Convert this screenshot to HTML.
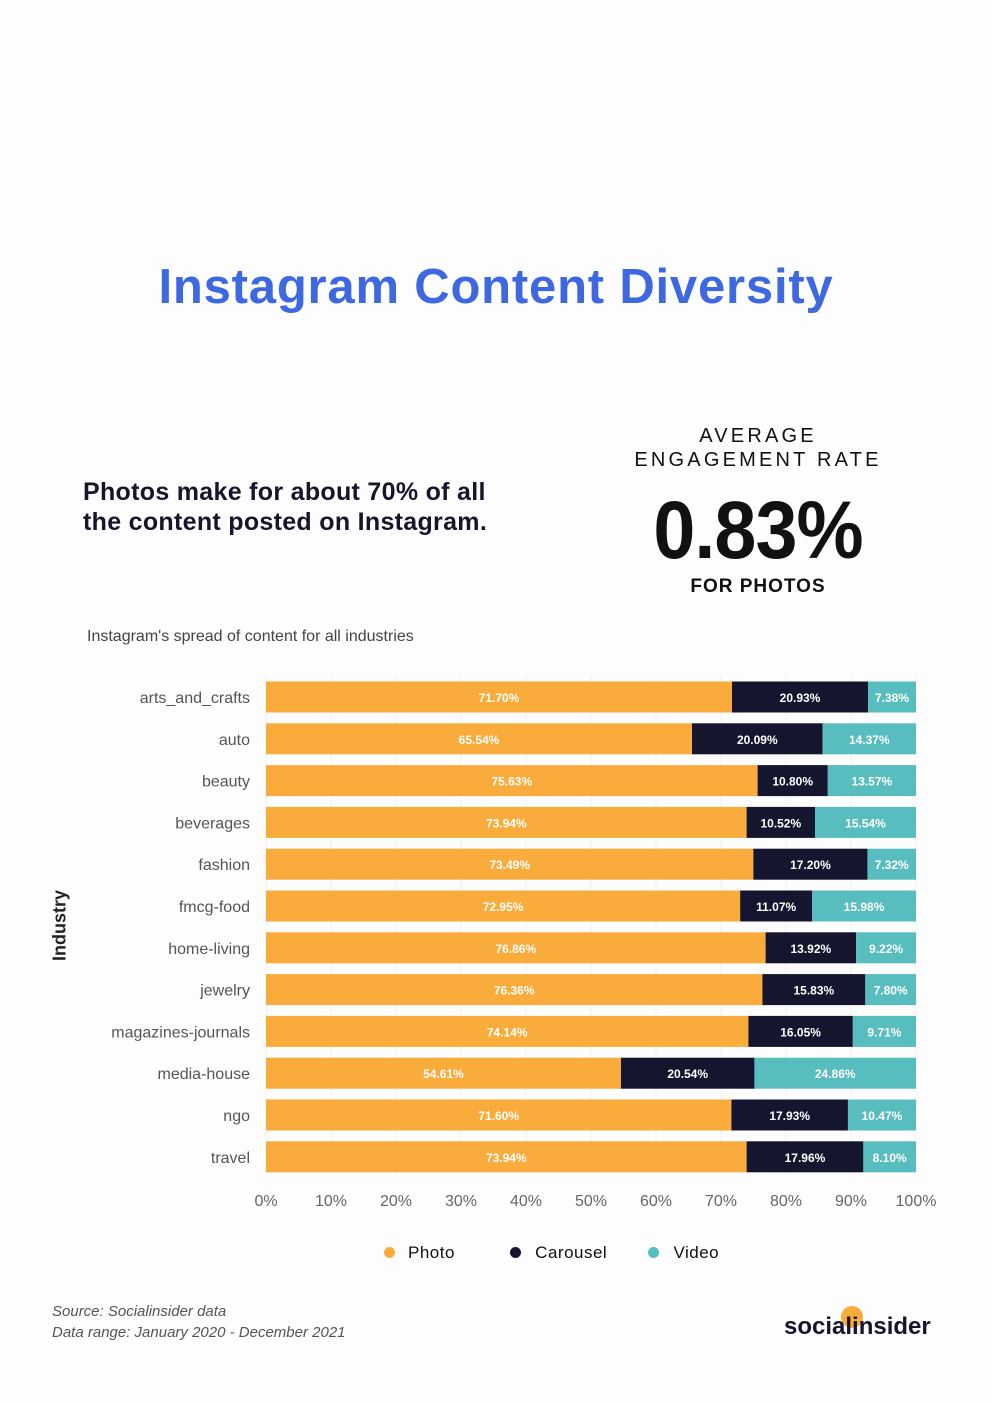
<!DOCTYPE html>
<html><head><meta charset="utf-8"><style>
body{margin:0;width:992px;height:1403px;background:#fdfdfd;font-family:"Liberation Sans",sans-serif;position:relative;overflow:hidden}
.a{position:absolute}
</style></head><body>
<div class="a" style="left:0;top:259px;width:992px;text-align:center;font-size:49px;font-weight:bold;color:#3d68e2;letter-spacing:0.8px">Instagram Content Diversity</div>
<div class="a" style="left:83px;top:477px;font-size:25px;font-weight:bold;color:#15152b;line-height:30px;letter-spacing:0.3px">Photos make for about 70% of all<br>the content posted on Instagram.</div>
<div class="a" style="left:620px;top:424px;width:276px;text-align:center;font-size:20px;color:#111;letter-spacing:3.2px;line-height:24px">AVERAGE<br>ENGAGEMENT RATE</div>
<div class="a" style="left:600px;top:484px;width:316px;text-align:center;font-size:82px;font-weight:bold;color:#111;transform:scaleX(0.92);letter-spacing:-1px">0.83%</div>
<div class="a" style="left:620px;top:576px;width:276px;text-align:center;font-size:19px;font-weight:bold;color:#111;letter-spacing:1px">FOR PHOTOS</div>
<div class="a" style="left:87px;top:628px;font-size:16px;color:#444">Instagram's spread of content for all industries</div>
<div class="a" style="left:20px;top:915px;width:80px;text-align:center;font-size:18px;font-weight:bold;color:#222;transform:rotate(-90deg)">Industry</div>
<svg class="a" id="chart" style="left:0;top:0" width="992" height="1403"></svg>
<div class="a" style="left:384px;top:1243px;font-size:17px;color:#111;white-space:nowrap;letter-spacing:0.5px">
<span><span style="display:inline-block;width:11px;height:11px;border-radius:50%;background:#f9ac3b;margin-right:13px"></span>Photo</span>
<span style="margin-left:50px"><span style="display:inline-block;width:11px;height:11px;border-radius:50%;background:#16152f;margin-right:14px"></span>Carousel</span>
<span style="margin-left:36px"><span style="display:inline-block;width:11px;height:11px;border-radius:50%;background:#58bdbe;margin-right:14px"></span>Video</span>
</div>
<div class="a" style="left:52px;top:1301px;font-size:15px;font-style:italic;color:#555;line-height:21px">Source: Socialinsider data<br>Data range: January 2020 - December 2021</div>
<div class="a" style="left:841px;top:1306px;width:22px;height:22px;border-radius:50%;background:#f9ac3b"></div>
<div class="a" style="left:784px;top:1313px;font-size:24px;font-weight:bold;color:#16152f">socialinsider</div>
<script>
const categories=["arts_and_crafts","auto","beauty","beverages","fashion","fmcg-food","home-living","jewelry","magazines-journals","media-house","ngo","travel"];
const photo=[71.70,65.54,75.63,73.94,73.49,72.95,76.86,76.36,74.14,54.61,71.60,73.94];
const carousel=[20.93,20.09,10.80,10.52,17.20,11.07,13.92,15.83,16.05,20.54,17.93,17.96];
const video=[7.38,14.37,13.57,15.54,7.32,15.98,9.22,7.80,9.71,24.86,10.47,8.10];
const ticks=[0,10,20,30,40,50,60,70,80,90,100];
const svg=document.getElementById('chart');const NS='http://www.w3.org/2000/svg';
const x=v=>266+v*6.5;const yc=i=>697+i*41.8;const bh=31;
function mk(t,a){const e=document.createElementNS(NS,t);for(const k in a)e.setAttribute(k,a[k]);svg.appendChild(e);return e;}
ticks.forEach(t=>{const l=mk('line',{x1:x(t),x2:x(t),y1:675,y2:1175,stroke:'#eee'});


const tx=mk('text',{x:x(t),y:1206,'text-anchor':'middle','font-size':16,fill:'#666','font-family':'Liberation Sans'});tx.textContent=t+'%';

});
const series=[[photo,'#f9ac3b'],[carousel,'#16152f'],[video,'#58bdbe']];
categories.forEach((c,i)=>{const lb=mk('text',{x:250,y:yc(i)+6,'text-anchor':'end','font-size':16,fill:'#555','font-family':'Liberation Sans'});lb.textContent=c;


const total=photo[i]+carousel[i]+video[i];
let acc=0;series.forEach(([arr,col],s)=>{const v=arr[i];const a0=acc/total*100,a1=(acc+v)/total*100;const r=mk('rect',{x:x(a0),y:yc(i)-bh/2,width:x(a1)-x(a0),height:bh,fill:col});


const t=mk('text',{x:(x(a0)+x(a1))/2,y:yc(i)+5,'text-anchor':'middle','font-size':12,'font-weight':'bold',fill:'#fff','font-family':'Liberation Sans'});t.textContent=v.toFixed(2)+'%';


acc+=v;});});
</script>
</body></html>
